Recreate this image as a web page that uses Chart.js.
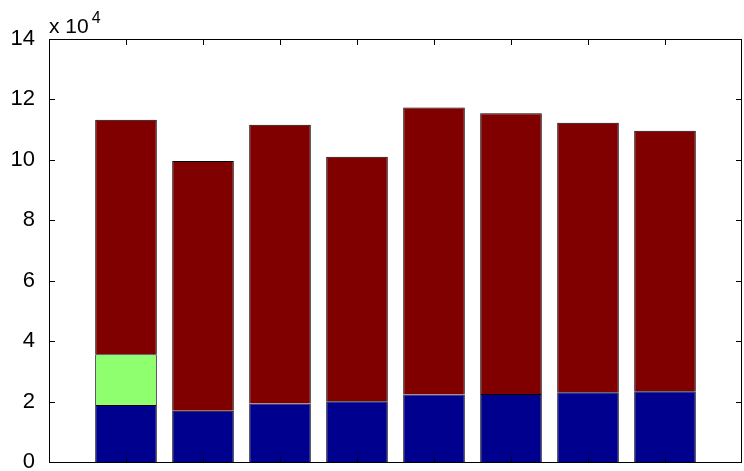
<!DOCTYPE html>
<html>
<head>
<meta charset="utf-8">
<script src="https://cdn.jsdelivr.net/npm/chart.js@4"></script>
<style>
    html, body { margin: 0; padding: 0; background: #fff; overflow: hidden; }
    canvas { display: block; }
</style>
</head>
<body>
<canvas id="barChart" width="744" height="471"></canvas>
<script>
// 막대 데이터 (x 10^4 단위로 읽은 값)
const categories = ['', '1', '2', '3', '4', '5', '6', '7', '8', ''];
const blueValues = [null, 18900, 17000, 19400, 20100, 22300, 22500, 23100, 23400, null];
const greenValues = [null, 16800, 0, 0, 0, 0, 0, 0, 0, null];
const totalValues = [null, 113300, 99600, 111600, 101000, 117300, 115400, 112300, 109600, null];
const redValues = totalValues.map((t, i) =>
    t === null ? null : t - blueValues[i] - greenValues[i]
);
const yTicks = [0, 20000, 40000, 60000, 80000, 100000, 120000, 140000];

const FONT = 'Liberation Sans, Arial, Helvetica, sans-serif';

// 안쪽으로 향하는 눈금 + 테두리 + 지수 표시
const matlabFrame = {
    id: 'matlabFrame',
    afterDraw(chart) {
        const ctx = chart.ctx;
        const a = chart.chartArea;
        const xs = chart.scales.x;
        const ys = chart.scales.y;
        const left = Math.round(a.left);
        const right = Math.round(a.right) - 1;
        const top = Math.round(a.top);
        const bottom = Math.round(a.bottom);
        const L = 6;
        ctx.save();
        ctx.fillStyle = '#000';
        // 테두리
        ctx.fillRect(left, top, right - left + 1, 1);
        ctx.fillRect(left, bottom, right - left + 1, 1);
        ctx.fillRect(left, top, 1, bottom - top + 1);
        ctx.fillRect(right, top, 1, bottom - top + 1);
        // 눈금
        for (let i = 1; i <= 8; i++) {
            const px = Math.round(xs.getPixelForValue(i));
            ctx.fillRect(px, top, 1, L);
            ctx.fillRect(px, bottom - L + 1, 1, L);
        }
        yTicks.forEach((v) => {
            const py = Math.round(ys.getPixelForValue(v));
            ctx.fillRect(left, py, L, 1);
            ctx.fillRect(right - L + 1, py, L, 1);
        });

        ctx.textBaseline = 'alphabetic';
        ctx.textAlign = 'left';
        ctx.font = '21px ' + FONT;
        ctx.fillText('x 10', a.left, a.top - 6);
        const w = ctx.measureText('x 10').width;
        ctx.font = '16px ' + FONT;
        ctx.fillText('4', a.left + w + 3, a.top - 16);
        ctx.restore();
    },
};

const ctx = document.getElementById('barChart').getContext('2d');
const chart = new Chart(ctx, {
    type: 'bar',
    data: {
        labels: categories,
        datasets: [
            {
                label: 'blue',
                data: blueValues,
                backgroundColor: '#00008f',
                borderColor: '#000',
                borderWidth: 1,
            },
            {
                label: 'green',
                data: greenValues,
                backgroundColor: '#8fff70',
                borderColor: '#000',
                borderWidth: 1,
            },
            {
                label: 'red',
                data: redValues,
                backgroundColor: '#800000',
                borderColor: '#000',
                borderWidth: 1,
            },
        ],
    },
    options: {
        responsive: false,
        animation: false,
        layout: { padding: { top: 39, right: 2, left: 0, bottom: 0 } },
        plugins: {
            legend: { display: false },
            tooltip: { enabled: false },
        },
        datasets: {
            bar: { barPercentage: 0.8, categoryPercentage: 1 },
        },
        scales: {
            x: {
                stacked: true,
                offset: false,
                grid: { display: false, offset: false },
                border: { display: false },
                ticks: { display: false },
                afterFit(scale) {
                    scale.height = 9;
                    scale.paddingLeft = 0;
                    scale.paddingRight = 0;
                },
            },
            y: {
                stacked: true,
                min: 0,
                max: 140000,
                grid: { display: false },
                border: { display: false },
                afterBuildTicks(scale) {
                    scale.ticks = yTicks.map((v) => ({ value: v }));
                },
                afterFit(scale) {
                    scale.width = 49;
                    scale.paddingTop = 0;
                    scale.paddingBottom = 0;
                },
                ticks: {
                    color: '#000',
                    padding: 6,
                    font: { family: FONT, size: 22 },
                    callback: (v) => v / 10000,
                },
            },
        },
    },
    plugins: [matlabFrame],
});
</script>
</body>
</html>
